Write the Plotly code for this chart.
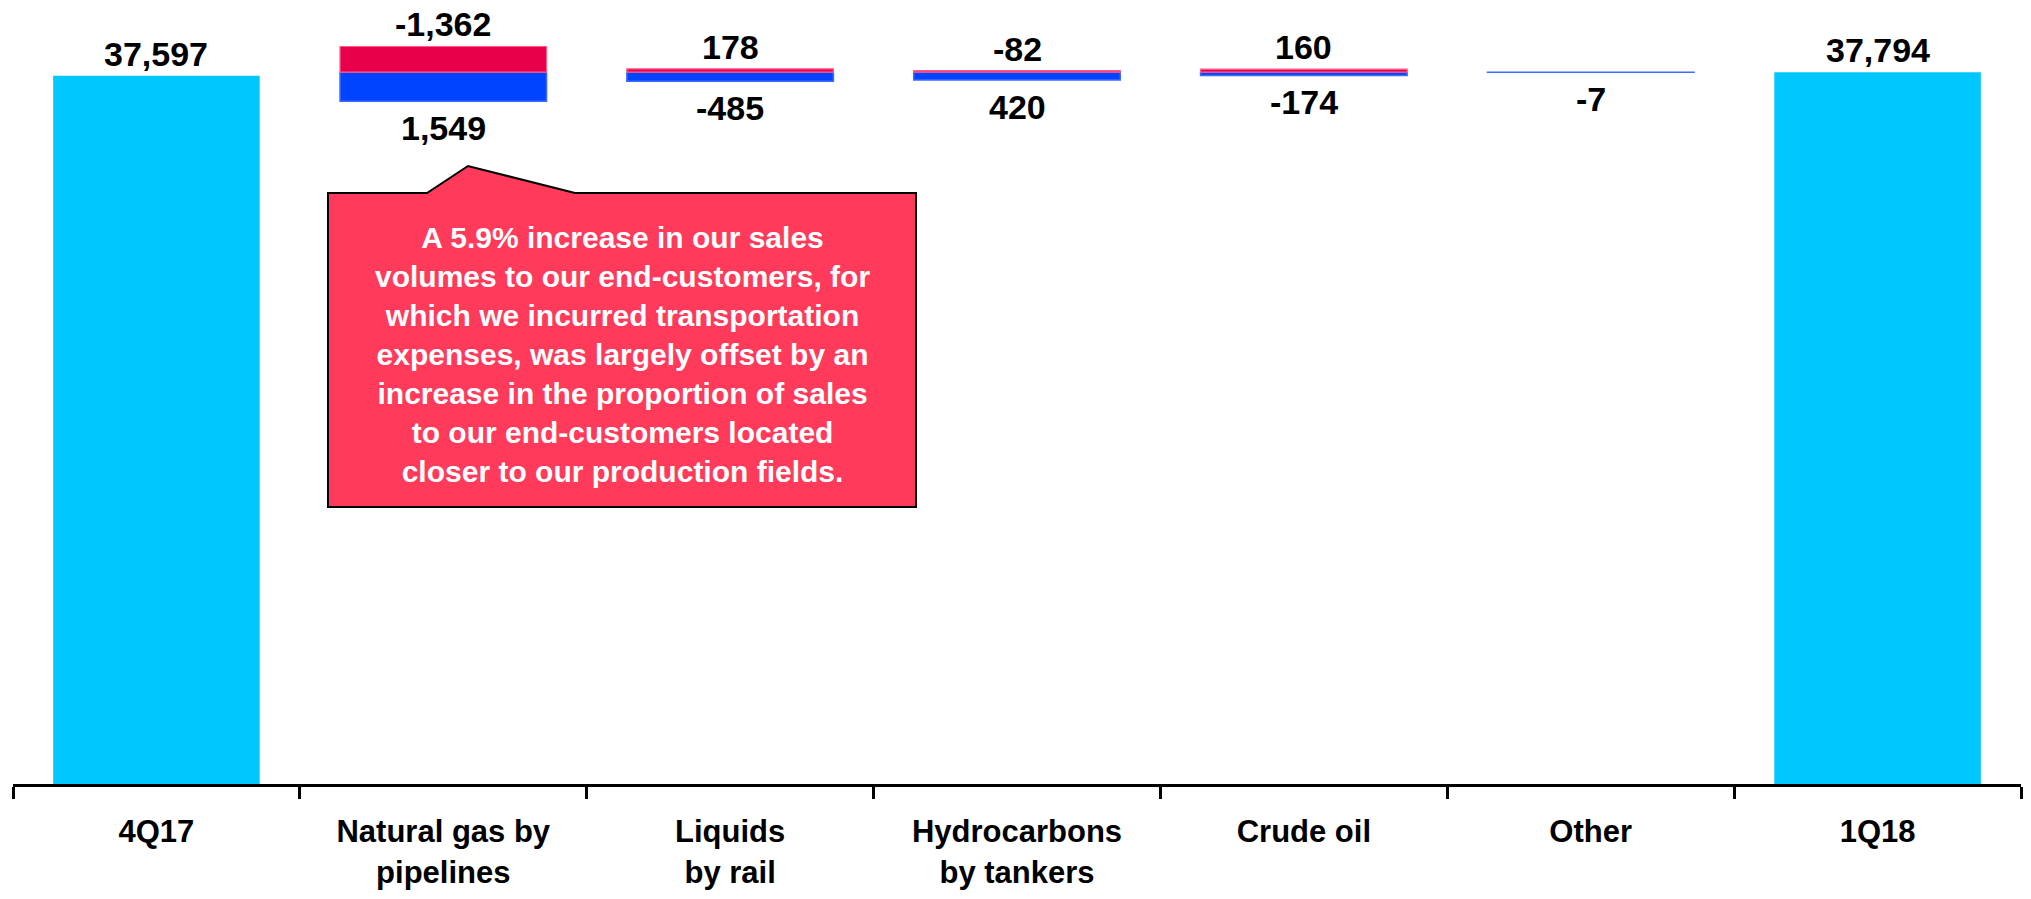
import plotly.graph_objects as go

# Categorias e valores
categorias = ["4Q17", "Natural gas by<br>pipelines", "Liquids<br>by rail",
              "Hydrocarbons<br>by tankers", "Crude oil", "Other", "1Q18"]
totais = [37597, None, None, None, None, None, 37794]
efeito_vermelho = [None, -1362, 178, -82, 160, None, None]
efeito_azul = [None, 1549, -485, 420, -174, -7, None]

nivel = totais[-1]  # nivel onde as barras de variacao se apoiam

COR_TOTAL = "#00C8FF"
COR_VERMELHO = "#E8004A"
COR_AZUL = "#0044FF"
FONTE = "Liberation Sans, Arial, sans-serif"

# a pagina tem margem de 8px no body
OFF = 8
W, H = 2031 - 2 * OFF, 899 - 2 * OFF
ML, MR, MT, MB = 5, 2, 0, 107


def px_para_paper(x, y):
    """Converte pixels da janela para coordenadas 'paper'."""
    pw = W - ML - MR
    ph = H - MT - MB
    return (x - OFF - ML) / pw, (OFF + H - MB - y) / ph


fig = go.Figure()

# Barras de total
fig.add_trace(go.Bar(
    x=categorias, y=totais,
    marker=dict(color=COR_TOTAL, line=dict(width=0)),
    hoverinfo="skip",
))

# Barras azuis (abaixo do nivel)
azul_y = [abs(v) if v is not None else None for v in efeito_azul]
azul_base = [nivel - abs(v) if v is not None else None for v in efeito_azul]
fig.add_trace(go.Bar(
    x=categorias, y=azul_y, base=azul_base,
    marker=dict(color=COR_AZUL, line=dict(color="#3b6bff", width=1.5)),
    hoverinfo="skip",
))

# Barras vermelhas (acima do nivel)
verm_y = [abs(v) if v is not None else None for v in efeito_vermelho]
verm_base = [nivel if v is not None else None for v in efeito_vermelho]
fig.add_trace(go.Bar(
    x=categorias, y=verm_y, base=verm_base,
    marker=dict(color=COR_VERMELHO, line=dict(color="#ff5c8a", width=1.2)),
    hoverinfo="skip",
))

# Rotulos
anotacoes = []
rotulo_fonte = dict(family=FONTE, size=34, color="black", weight="bold")
for cat, v in zip(categorias, totais):
    if v is not None:
        anotacoes.append(dict(x=cat, y=v, text=f"{v:,}", showarrow=False,
                              yanchor="bottom", yshift=1, font=rotulo_fonte))
for cat, v in zip(categorias, efeito_vermelho):
    if v is not None:
        anotacoes.append(dict(x=cat, y=nivel + abs(v), text=f"{v:,}", showarrow=False,
                              yanchor="bottom", yshift=1, font=rotulo_fonte))
for cat, v in zip(categorias, efeito_azul):
    if v is not None:
        anotacoes.append(dict(x=cat, y=nivel - abs(v), text=f"{v:,}", showarrow=False,
                              yanchor="top", yshift=-6, font=rotulo_fonte))

# Balao de comentario
pontos = [(328, 193), (427, 193), (468, 166), (575, 193), (916, 193), (916, 507), (328, 507)]
caminho = "M " + " L ".join(f"{px:.5f},{py:.5f}" for px, py in (px_para_paper(x, y) for x, y in pontos)) + " Z"
fig.add_shape(type="path", xref="paper", yref="paper", path=caminho,
              fillcolor="#FF3A5A", line=dict(color="black", width=2), layer="above")

cx, cy = px_para_paper(622, 354)
anotacoes.append(dict(
    x=cx, y=cy, xref="paper", yref="paper", showarrow=False,
    xanchor="center", yanchor="middle", align="center",
    text=("A 5.9% increase in our sales<br>volumes to our end-customers, for<br>"
          "which we incurred transportation<br>expenses, was largely offset by an<br>"
          "increase in the proportion of sales<br>to our end-customers located<br>"
          "closer to our production fields."),
    font=dict(family=FONTE, size=30, color="white", weight="bold"),
))

fig.update_layout(
    width=W, height=H,
    margin=dict(l=ML, r=MR, t=MT, b=MB),
    barmode="overlay",
    bargap=0.28,
    showlegend=False,
    plot_bgcolor="white",
    paper_bgcolor="white",
    annotations=anotacoes,
    xaxis=dict(
        showline=True, linecolor="black", linewidth=3,
        ticks="outside", tickson="boundaries", ticklen=12, tickwidth=3, tickcolor="black",
        ticklabelstandoff=18,
        tickfont=dict(family=FONTE, size=31, color="black", weight="bold"),
        showgrid=False, zeroline=False,
    ),
    yaxis=dict(visible=False, range=[0, 41200]),
)

fig.write_html("out.html")
